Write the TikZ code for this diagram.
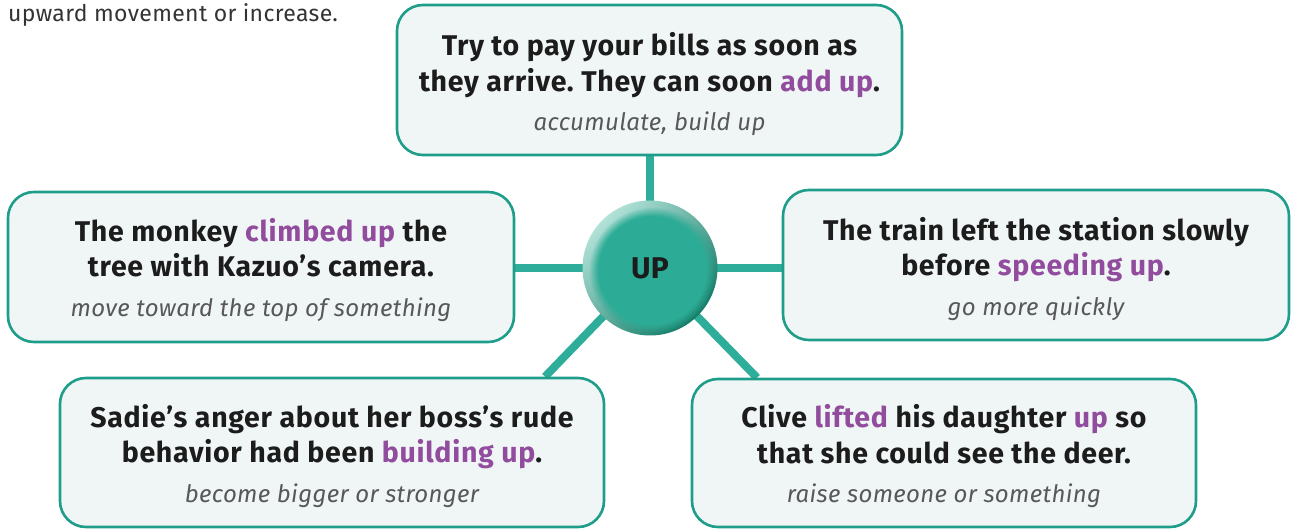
\documentclass[tikz,border=0pt]{standalone}
\usepackage{fontspec}
\setmainfont{Fira Sans}
\newfontfamily\cardfont{Fira Sans}[LetterSpace=2.5]
\newfontfamily\glossfont{Fira Sans}[LetterSpace=1.5]
\usetikzlibrary{backgrounds,fadings,calc}
\frenchspacing
\definecolor{tealline}{RGB}{46,174,154}
\definecolor{tealborder}{RGB}{30,158,138}
\definecolor{cardfill}{RGB}{240,246,246}
\definecolor{purp}{RGB}{146,76,158}
\definecolor{ink}{RGB}{28,28,28}
\definecolor{gloss}{RGB}{88,88,88}
\definecolor{ballmid}{RGB}{44,172,150}
\definecolor{balllight}{RGB}{178,226,216}
\definecolor{balldark}{RGB}{20,124,104}
\newcommand{\hl}[1]{\textcolor{purp}{#1}}
\newcommand{\gl}[1]{{\fontsize{24}{28}\glossfont\mdseries\itshape\color{gloss}#1}}
\tikzset{
  card/.style={draw=tealborder, line width=2.6pt, fill=cardfill, rounded corners=26pt,
    minimum height=150pt, inner sep=0pt},
  cardtext/.style={align=center, text=ink, inner sep=0pt,
    font=\fontsize{28.5}{35.5}\cardfont\bfseries\frenchspacing},
  spoke/.style={draw=tealline, line width=8pt},
}
\begin{document}
\begin{tikzpicture}[x=1pt,y=-1pt]
\useasboundingbox (0,0) rectangle (1293,529);
\node[anchor=base west, inner sep=0pt, text=ink!90, font=\fontsize{23}{26}\glossfont] (intro) at (8,22) {upward movement or increase.};

\node[card, minimum width=505pt] (top) at (649.5,80) {};
\node[card, minimum width=506pt] (left) at (261,267) {};
\node[card, minimum width=506pt] (right) at (1036,265) {};
\node[card, minimum width=544pt, minimum height=149pt] (bl) at (332,452.5) {};
\node[card, minimum width=504pt, minimum height=148pt] (br) at (944,453) {};

\node[cardtext] (topT) at ($(top.center)+(0,4.5)$)
  {Try to pay your bills as soon as\\they arrive. They can soon \hl{add up}.\\[4pt]\gl{accumulate, build up}};
\node[cardtext] (leftT) at ($(left.center)+(0,3)$)
  {The monkey \hl{climbed up} the\\tree with Kazuo’s camera.\\[4pt]\gl{move toward the top of something}};
\node[cardtext] (rightT) at ($(right.center)+(0,4)$)
  {The train left the station slowly\\before \hl{speeding up}.\\[4pt]\gl{go more quickly}};
\node[cardtext] (blT) at ($(bl.center)+(0,3.5)$)
  {Sadie’s anger about her boss’s rude\\behavior had been \hl{building up}.\\[4pt]\gl{become bigger or stronger}};
\node[cardtext] (brT) at ($(br.center)+(0,3.5)$)
  {Clive \hl{lifted} his daughter \hl{up} so\\that she could see the deer.\\[4pt]\gl{raise someone or something}};

\shade[top color=balllight, bottom color=balldark, shading angle=45] (650,268) circle (67.5);
\fill[ballmid, path fading=circle with fuzzy edge 15 percent] (652,270) circle (63);
\node[circle, minimum size=135pt, inner sep=0pt, font=\fontsize{30}{32}\selectfont\bfseries, text=ink] (c) at (650,268) {UP};

\begin{scope}[on background layer]
  \draw[spoke] (c.center) -- (c.center |- top.south);
  \draw[spoke] (c.center) -- (left.east |- c.center);
  \draw[spoke] (c.center) -- (right.west |- c.center);
  \draw[spoke] (c.center) -- ([xshift=213pt]bl.north);
  \draw[spoke] (c.center) -- ([xshift=-187pt]br.north);
\end{scope}
\end{tikzpicture}
\end{document}
